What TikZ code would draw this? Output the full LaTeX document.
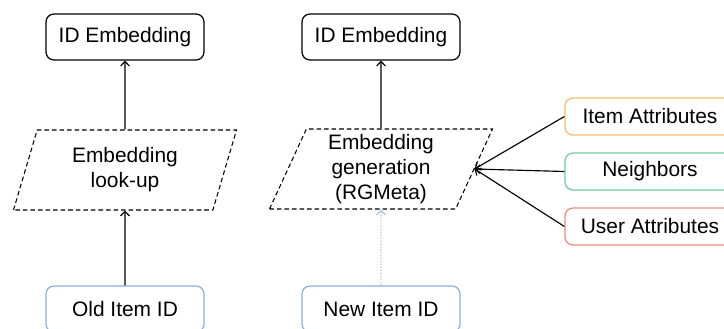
\documentclass[tikz,border=0pt]{standalone}
\usepackage{fontspec}
\setmainfont{Liberation Sans}
\usepackage{xcolor}
\usetikzlibrary{arrows}
\usetikzlibrary{arrows.meta}
\usetikzlibrary{shapes.geometric}

\definecolor{idblue}{HTML}{8AAEE0}
\definecolor{dotblue}{HTML}{A6C2E8}
\definecolor{attrorange}{HTML}{F3BE68}
\definecolor{attrgreen}{HTML}{6DCB9E}
\definecolor{attrred}{HTML}{EA8A7C}

\begin{document}
\begin{tikzpicture}[scale=1,
        font=\fontsize{11.9}{14.2}\selectfont,
        box/.style={draw,rounded corners=4.5pt,line width=0.7pt,minimum width=3.16cm,minimum height=0.92cm},
        attr/.style={draw,rounded corners=4.5pt,line width=0.7pt,minimum width=3.4cm,minimum height=0.74cm},
        para/.style={trapezium,trapezium left angle=62,trapezium right angle=118,trapezium stretches body,
            draw,dashed,dash pattern=on 2.6pt off 1.7pt,line width=0.6pt,minimum width=4.46cm,minimum height=1.6cm,align=center,inner sep=0pt},
        arr/.style={-{Straight Barb[length=2.6pt,width=5pt]},line width=0.65pt}]
        \useasboundingbox (0,0) rectangle (14.48,6.58);
        % lookup column
        \node[box] (embL) at (2.5,5.84) {ID Embedding};
        \node[para] (lookup) at (2.5,3.18) {Embedding\\look-up};
        \node[box,draw=idblue] (oldid) at (2.5,0.4) {Old Item ID};
        \draw[arr] (oldid) -- (lookup);
        \draw[arr] (lookup) -- (embL);
        % generation column
        \node[box] (embR) at (7.62,5.84) {ID Embedding};
        \node[para] (gen) at (7.62,3.2) {Embedding\\generation\\(RGMeta)};
        \node[box,draw=idblue] (newid) at (7.62,0.4) {New Item ID};
        \draw[arr,dotblue,densely dotted] (newid) -- (gen);
        \draw[arr] (gen) -- (embR);
        % side information
        \node[attr,draw=attrorange] (itemattr) at (13.0,4.25) {Item Attributes};
        \node[attr,draw=attrgreen] (nbrs) at (13.0,3.15) {Neighbors};
        \node[attr,draw=attrred] (userattr) at (13.0,2.05) {User Attributes};
        \draw[arr] (itemattr.west) -- (gen.right side);
        \draw[arr] (nbrs.west) -- (gen.right side);
        \draw[arr] (userattr.west) -- (gen.right side);
    \end{tikzpicture}
\end{document}
